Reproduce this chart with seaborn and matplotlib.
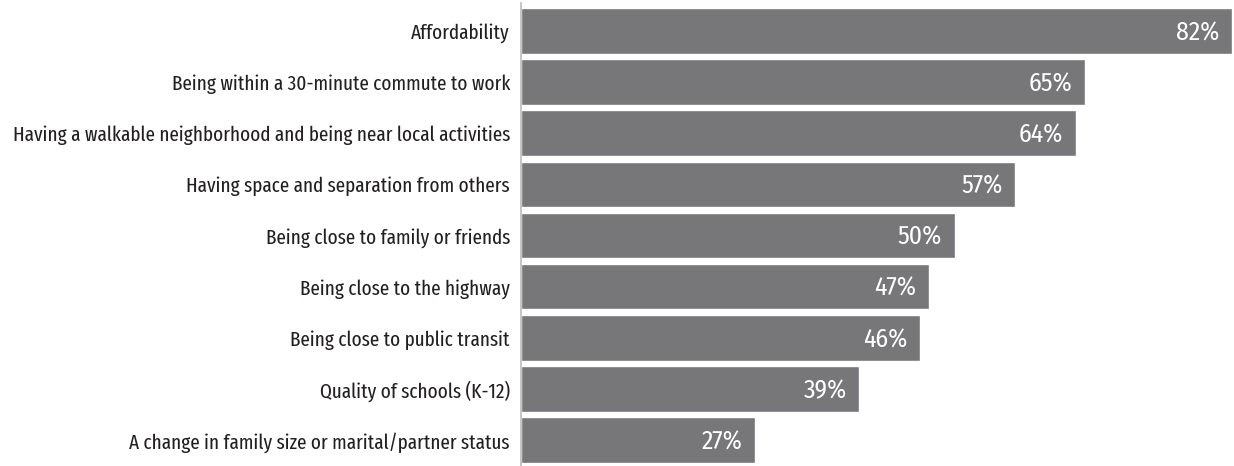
import matplotlib
matplotlib.use("Agg")
import matplotlib.pyplot as plt
import seaborn as sns
import pandas as pd

categories = [
    "Affordability",
    "Being within a 30-minute commute to work",
    "Having a walkable neighborhood and being near local activities",
    "Having space and separation from others",
    "Being close to family or friends",
    "Being close to the highway",
    "Being close to public transit",
    "Quality of schools (K-12)",
    "A change in family size or marital/partner status",
]
values = [82, 65, 64, 57, 50, 47, 46, 39, 27]
value_labels = [f"{v}%" for v in values]

sns.set_theme(style="white")
plt.rcParams['font.family'] = ['Fira Sans Extra Condensed', 'Fira Sans Condensed', 'PT Sans Narrow',
                               'Roboto Condensed', 'Archivo Narrow', 'DejaVu Sans']

df = pd.DataFrame({"category": categories, "value": values})

fig = plt.figure(figsize=(12.34, 4.66), dpi=100)
ax = fig.add_axes([521/1234, 0, (1232-521)/1234, 1 - 3/466])
sns.barplot(data=df, y="category", x="value", orient="h", color="#77777a",
            saturation=1, width=0.89, ax=ax)
ax.set_xlim(0, 82)
ax.set_ylim(8.504, -0.543)
ax.set_xlabel("")
ax.set_ylabel("")
ax.set_xticks([])
for s in ["top", "right", "bottom"]:
    ax.spines[s].set_visible(False)
ax.spines["left"].set_color("#bbbbbb")
ax.spines["left"].set_linewidth(1.2)
ax.tick_params(axis="y", length=0, pad=8, labelsize=15, labelcolor="#231f20")

for i, (v, lab) in enumerate(zip(values, value_labels)):
    ax.annotate(lab, xy=(v, i), xytext=(-9, -1.5), textcoords="offset points",
                ha="right", va="center", color="white", fontsize=18.5,
                family=['Fira Sans Condensed', 'DejaVu Sans'], fontweight="normal")

fig.savefig("out.png", dpi=100)
